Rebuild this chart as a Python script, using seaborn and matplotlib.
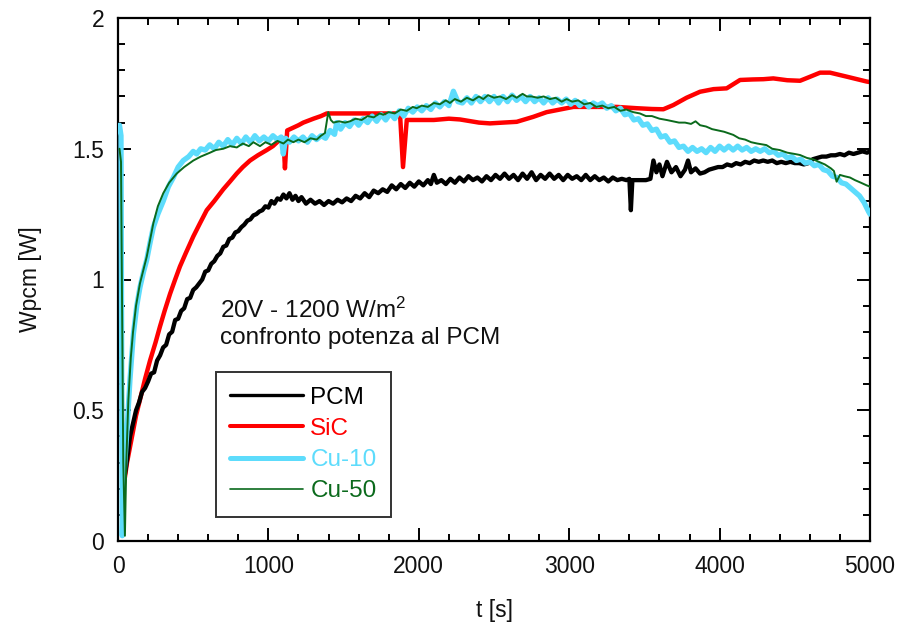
import numpy as np
import pandas as pd
import matplotlib
matplotlib.use("Agg")
import matplotlib.pyplot as plt
import seaborn as sns
from matplotlib.lines import Line2D
from matplotlib.ticker import MultipleLocator

# ---------------- data ----------------
pcm_t = [30, 45, 60, 80, 100, 120, 140, 160, 180, 200, 220, 240, 260, 280, 300, 320, 340, 360, 380, 400,
         420, 440, 460, 480, 500, 520, 540, 560, 580, 600, 620, 640, 660, 680, 700, 720, 740, 760, 780, 800,
         820, 840, 860, 880, 900, 920, 940, 960, 980, 1000, 1020, 1040, 1060, 1080, 1100, 1120, 1140, 1160,
         1180, 1200, 1220, 1250, 1280, 1310, 1340, 1370, 1400, 1430, 1460, 1490, 1520, 1550, 1580, 1610,
         1640, 1670, 1700, 1730, 1760, 1790, 1820, 1850, 1880, 1910, 1940, 1970, 2000, 2030, 2060, 2080,
         2100, 2120, 2150, 2180, 2210, 2240, 2270, 2300, 2330, 2360, 2390, 2420, 2450, 2480, 2510, 2540,
         2570, 2600, 2630, 2660, 2690, 2720, 2750, 2780, 2810, 2840, 2870, 2900, 2930, 2960, 2990, 3020,
         3050, 3080, 3110, 3140, 3170, 3200, 3230, 3260, 3290, 3320, 3350, 3380, 3400, 3410, 3420, 3450,
         3480, 3510, 3540, 3560, 3580, 3600, 3620, 3650, 3680, 3710, 3740, 3770, 3790, 3810, 3840, 3870,
         3900, 3930, 3960, 3990, 4020, 4050, 4080, 4110, 4140, 4170, 4200, 4230, 4260, 4290, 4320, 4350,
         4380, 4410, 4440, 4470, 4500, 4530, 4560, 4590, 4620, 4650, 4680, 4710, 4740, 4770, 4800, 4830,
         4860, 4890, 4920, 4950, 4980, 5000]
pcm_w = [0.18, 0.25, 0.31, 0.40, 0.45, 0.50, 0.53, 0.57, 0.585, 0.61, 0.64, 0.645, 0.69, 0.71, 0.74, 0.75,
         0.79, 0.80, 0.845, 0.85, 0.88, 0.89, 0.925, 0.93, 0.96, 0.97, 0.985, 1.00, 1.03, 1.035, 1.06, 1.07,
         1.09, 1.10, 1.125, 1.13, 1.155, 1.16, 1.18, 1.185, 1.20, 1.21, 1.225, 1.23, 1.245, 1.25, 1.26, 1.265,
         1.28, 1.275, 1.30, 1.29, 1.31, 1.305, 1.325, 1.31, 1.33, 1.305, 1.32, 1.30, 1.315, 1.29, 1.305, 1.29,
         1.30, 1.285, 1.30, 1.29, 1.305, 1.295, 1.31, 1.30, 1.32, 1.31, 1.33, 1.315, 1.34, 1.33, 1.345, 1.335,
         1.36, 1.345, 1.365, 1.35, 1.37, 1.355, 1.375, 1.36, 1.38, 1.365, 1.40, 1.37, 1.38, 1.365, 1.385, 1.37,
         1.39, 1.375, 1.395, 1.38, 1.39, 1.375, 1.395, 1.38, 1.40, 1.385, 1.405, 1.385, 1.40, 1.38, 1.405,
         1.385, 1.41, 1.38, 1.40, 1.385, 1.405, 1.385, 1.40, 1.38, 1.40, 1.385, 1.395, 1.38, 1.40, 1.38, 1.395,
         1.38, 1.39, 1.375, 1.39, 1.38, 1.385, 1.38, 1.385, 1.265, 1.38, 1.38, 1.38, 1.38, 1.385, 1.455, 1.41,
         1.44, 1.395, 1.45, 1.41, 1.43, 1.395, 1.42, 1.455, 1.41, 1.425, 1.405, 1.41, 1.42, 1.425, 1.43, 1.43,
         1.44, 1.435, 1.445, 1.44, 1.45, 1.445, 1.455, 1.45, 1.455, 1.45, 1.455, 1.445, 1.45, 1.445, 1.45,
         1.445, 1.445, 1.44, 1.445, 1.46, 1.465, 1.47, 1.47, 1.475, 1.475, 1.48, 1.475, 1.485, 1.48, 1.485,
         1.49, 1.485, 1.49]

sic_t = [15, 30, 40, 60, 80, 100, 120, 146, 180, 213, 250, 279, 310, 346, 380, 412, 450, 501, 545, 590,
         640, 700, 745, 789, 830, 878, 930, 989, 1030, 1077, 1100, 1110, 1125, 1144, 1200, 1232, 1300, 1350,
         1388, 1500, 1600, 1700, 1800, 1875, 1895, 1920, 1975, 2100, 2200, 2274, 2400, 2473, 2560, 2651,
         2761, 2850, 2983, 3028, 3200, 3316, 3450, 3550, 3626, 3692, 3780, 3870, 3960, 4047, 4136, 4220,
         4291, 4357, 4450, 4535, 4600, 4668, 4734, 4850, 4978, 5000]
sic_w = [1.50, 0.15, 0.22, 0.30, 0.36, 0.42, 0.48, 0.54, 0.62, 0.69, 0.76, 0.82, 0.88, 0.945, 1.00, 1.05,
         1.10, 1.165, 1.215, 1.265, 1.30, 1.345, 1.375, 1.405, 1.43, 1.455, 1.475, 1.495, 1.51, 1.535, 1.54,
         1.425, 1.57, 1.575, 1.59, 1.60, 1.615, 1.625, 1.635, 1.635, 1.635, 1.635, 1.635, 1.635, 1.43, 1.61,
         1.61, 1.61, 1.615, 1.612, 1.60, 1.597, 1.60, 1.603, 1.622, 1.64, 1.655, 1.66, 1.66, 1.66, 1.655,
         1.652, 1.651, 1.667, 1.695, 1.718, 1.728, 1.731, 1.763, 1.765, 1.766, 1.769, 1.762, 1.76, 1.775,
         1.791, 1.791, 1.775, 1.757, 1.755]

cu10_t = [10, 20, 28, 40, 58, 80, 102, 125, 146, 170, 191, 213, 235, 265, 301, 335, 368, 400, 434, 470,
          500, 523, 550, 580, 610, 640, 670, 700, 730, 760, 790, 820, 850, 880, 910, 940, 970, 1000, 1030,
          1060, 1085, 1099, 1115, 1140, 1170, 1200, 1230, 1260, 1290, 1320, 1350, 1380, 1410, 1440, 1454,
          1480, 1510, 1540, 1570, 1600, 1630, 1660, 1690, 1720, 1750, 1780, 1810, 1840, 1870, 1900, 1930,
          1960, 1990, 2020, 2050, 2080, 2110, 2140, 2170, 2200, 2230, 2260, 2290, 2320, 2350, 2380, 2410,
          2440, 2470, 2500, 2530, 2560, 2590, 2620, 2650, 2680, 2710, 2740, 2770, 2800, 2830, 2860, 2890,
          2920, 2950, 2980, 3010, 3040, 3070, 3100, 3130, 3160, 3190, 3220, 3250, 3280, 3310, 3340, 3370,
          3400, 3430, 3460, 3490, 3520, 3550, 3580, 3610, 3640, 3670, 3700, 3730, 3760, 3790, 3820, 3850,
          3880, 3910, 3940, 3970, 4000, 4030, 4060, 4090, 4120, 4150, 4180, 4210, 4240, 4270, 4300, 4330,
          4360, 4390, 4420, 4450, 4480, 4510, 4540, 4570, 4600, 4630, 4660, 4690, 4720, 4750, 4780, 4810,
          4840, 4870, 4900, 4930, 4960, 4990, 5000]
cu10_w = [1.59, 1.55, 0.02, 0.25, 0.41, 0.62, 0.79, 0.90, 0.97, 1.03, 1.075, 1.14, 1.20, 1.25, 1.30, 1.355,
          1.39, 1.43, 1.455, 1.47, 1.49, 1.48, 1.50, 1.495, 1.515, 1.50, 1.525, 1.51, 1.535, 1.515, 1.54,
          1.52, 1.545, 1.525, 1.55, 1.53, 1.545, 1.53, 1.55, 1.535, 1.545, 1.48, 1.54, 1.525, 1.545, 1.53,
          1.545, 1.525, 1.55, 1.535, 1.55, 1.54, 1.57, 1.555, 1.60, 1.575, 1.60, 1.585, 1.61, 1.59, 1.615,
          1.60, 1.625, 1.605, 1.63, 1.61, 1.635, 1.615, 1.645, 1.625, 1.655, 1.64, 1.66, 1.645, 1.665, 1.65,
          1.675, 1.66, 1.68, 1.665, 1.72, 1.68, 1.675, 1.695, 1.675, 1.70, 1.68, 1.70, 1.68, 1.70, 1.675,
          1.70, 1.68, 1.705, 1.685, 1.70, 1.68, 1.70, 1.68, 1.695, 1.675, 1.695, 1.675, 1.69, 1.675, 1.69,
          1.67, 1.685, 1.665, 1.68, 1.66, 1.675, 1.665, 1.675, 1.655, 1.665, 1.645, 1.655, 1.63, 1.635, 1.61,
          1.615, 1.59, 1.595, 1.57, 1.575, 1.545, 1.55, 1.525, 1.53, 1.505, 1.51, 1.49, 1.505, 1.49, 1.50,
          1.485, 1.505, 1.49, 1.51, 1.495, 1.51, 1.495, 1.51, 1.495, 1.505, 1.49, 1.50, 1.49, 1.50, 1.485,
          1.49, 1.475, 1.48, 1.465, 1.47, 1.455, 1.46, 1.445, 1.45, 1.435, 1.44, 1.42, 1.415, 1.395, 1.39,
          1.37, 1.365, 1.35, 1.335, 1.32, 1.295, 1.26, 1.25]

cu50_t = [10, 20, 35, 46, 55, 69, 85, 100, 120, 146, 170, 191, 213, 235, 265, 301, 340, 390, 440, 501,
          550, 612, 650, 700, 745, 790, 830, 870, 900, 944, 980, 1020, 1060, 1100, 1130, 1166, 1200, 1240,
          1280, 1321, 1350, 1376, 1398, 1415, 1432, 1470, 1510, 1543, 1580, 1620, 1660, 1700, 1740, 1764,
          1800, 1840, 1880, 1920, 1960, 1986, 2020, 2060, 2100, 2140, 2180, 2207, 2240, 2280, 2320, 2360,
          2400, 2429, 2460, 2500, 2540, 2580, 2620, 2651, 2690, 2718, 2750, 2790, 2830, 2872, 2910, 2950,
          2983, 3020, 3060, 3100, 3140, 3180, 3220, 3260, 3300, 3340, 3380, 3426, 3470, 3510, 3550, 3600,
          3648, 3690, 3730, 3770, 3810, 3840, 3870, 3910, 3950, 3990, 4030, 4091, 4130, 4170, 4210, 4250,
          4311, 4350, 4400, 4450, 4500, 4535, 4580, 4620, 4660, 4700, 4740, 4760, 4778, 4800, 4830, 4867,
          4900, 4940, 4978, 5000]
cu50_w = [1.50, 1.45, 0.30, 0.02, 0.30, 0.54, 0.70, 0.80, 0.90, 0.985, 1.04, 1.087, 1.15, 1.215, 1.28,
          1.33, 1.37, 1.405, 1.43, 1.455, 1.47, 1.485, 1.495, 1.50, 1.51, 1.505, 1.52, 1.51, 1.525, 1.51,
          1.525, 1.515, 1.53, 1.52, 1.535, 1.525, 1.535, 1.525, 1.54, 1.535, 1.55, 1.56, 1.64, 1.61, 1.60,
          1.605, 1.60, 1.605, 1.615, 1.61, 1.625, 1.62, 1.635, 1.63, 1.64, 1.635, 1.65, 1.645, 1.66, 1.655,
          1.665, 1.66, 1.675, 1.67, 1.685, 1.675, 1.69, 1.68, 1.695, 1.685, 1.70, 1.69, 1.705, 1.695, 1.70,
          1.69, 1.705, 1.695, 1.71, 1.70, 1.70, 1.695, 1.70, 1.69, 1.695, 1.68, 1.69, 1.68, 1.685, 1.67,
          1.675, 1.66, 1.665, 1.655, 1.66, 1.645, 1.65, 1.64, 1.635, 1.625, 1.625, 1.615, 1.61, 1.605, 1.60,
          1.60, 1.595, 1.605, 1.59, 1.585, 1.575, 1.57, 1.565, 1.553, 1.54, 1.535, 1.525, 1.52, 1.514, 1.50,
          1.495, 1.485, 1.48, 1.476, 1.465, 1.46, 1.45, 1.44, 1.425, 1.415, 1.374, 1.40, 1.395, 1.39, 1.38,
          1.37, 1.36, 1.355]

labels = ["PCM", "SiC", "Cu-10", "Cu-50"]
colors = ["#000000", "#ff0000", "#5ddcfc", "#0b6a1c"]
widths = [3.1, 3.2, 3.8, 1.4]
legend_widths = [2.4, 2.9, 3.6, 1.2]
xticks = [0, 1000, 2000, 3000, 4000, 5000]
yticks = [0, 0.5, 1, 1.5, 2]
ytick_labels = ["0", "0.5", "1", "1.5", "2"]

# ---------------- plotting ----------------
sns.set_theme(style="white")
plt.rcParams["font.family"] = ["Liberation Sans", "DejaVu Sans"]
plt.rcParams["mathtext.fontset"] = "custom"
plt.rcParams["mathtext.rm"] = "Liberation Sans"
plt.rcParams["mathtext.it"] = "Liberation Sans"
plt.rcParams["mathtext.default"] = "regular"

fig = plt.figure(figsize=(9.01, 6.35), dpi=100)
ax = fig.add_axes([118 / 901, 1 - 541 / 635, (870 - 118) / 901, (541 - 18) / 635])

series = [(pcm_t, pcm_w), (sic_t, sic_w), (cu10_t, cu10_w), (cu50_t, cu50_w)]
zorders = [3, 2, 4, 5]
for i in range(4):
    t, w = series[i]
    df = pd.DataFrame({"t": t, "W": w})
    sns.lineplot(data=df, x="t", y="W", ax=ax, color=colors[i], lw=widths[i],
                 estimator=None, sort=False, zorder=zorders[i], legend=False)

ax.set_xlim(0, 5000)
ax.set_ylim(0, 2)
ax.set_xticks(xticks)
ax.set_xticklabels([str(v) for v in xticks])
ax.set_yticks(yticks)
ax.set_yticklabels(ytick_labels)
ax.xaxis.set_minor_locator(MultipleLocator(200))
ax.yaxis.set_minor_locator(MultipleLocator(0.1))
ax.tick_params(which="both", direction="in", top=True, right=True, bottom=True, left=True,
               color="black", width=1.4)
ax.tick_params(which="major", length=9.4, labelsize=16.5, pad=10, labelcolor="#111111")
ax.tick_params(which="minor", length=5.0)
for s in ax.spines.values():
    s.set_color("black")
    s.set_linewidth(1.6)

ax.set_xlabel("t [s]", fontsize=16.5, labelpad=15, color="#111111")
ax.set_ylabel("Wpcm [W]", fontsize=16.5, labelpad=22, color="#111111")

fig.text(220 / 901, 1 - 318 / 635, "20V - 1200 W/m$^2$", fontsize=17.5, color="#111111")
fig.text(220 / 901, 1 - 344 / 635, "confronto potenza al PCM", fontsize=17.5, color="#111111")

handles = [Line2D([0], [0], color=colors[i], lw=legend_widths[i]) for i in range(4)]
leg = ax.legend(handles, labels, loc="upper left", bbox_to_anchor=(0.130, 0.323),
                borderaxespad=0, frameon=True, fancybox=False, edgecolor="black",
                fontsize=17.5, handlelength=3.0, handletextpad=0.29, labelspacing=0.38,
                borderpad=0.6)
leg.get_frame().set_linewidth(1.4)
for txt, c in zip(leg.get_texts(), colors):
    txt.set_color(c)

fig.savefig("out.png", dpi=100)
